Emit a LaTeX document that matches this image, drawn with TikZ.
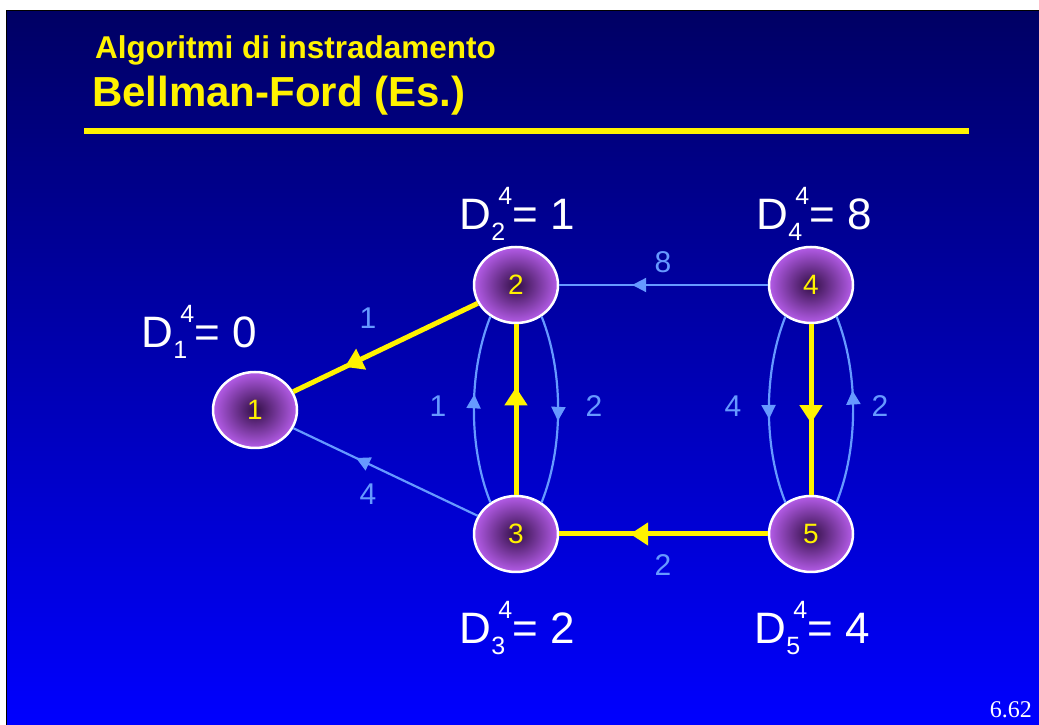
\documentclass[tikz,border=0pt]{standalone}
\usepackage{fontspec}
\setmainfont{Liberation Sans}
\newfontfamily\timesf{Liberation Serif}
\usetikzlibrary{shapes.geometric,arrows.meta,decorations.markings}
\definecolor{bgtop}{RGB}{0,0,100}
\definecolor{bgbot}{RGB}{0,0,255}
\definecolor{edgeblue}{RGB}{102,153,255}
\definecolor{nodein}{RGB}{50,15,70}
\definecolor{nodeout}{RGB}{180,92,232}
\newcommand{\dlab}[3]{\fontsize{44}{44}\selectfont D\rlap{\raisebox{-11pt}{\fontsize{25}{25}\selectfont #1}}\kern7pt\raisebox{25pt}{\fontsize{25}{25}\selectfont #2}= #3}
\begin{document}
\begin{tikzpicture}[x=1pt,y=1pt,
  st/.style={ellipse, draw=white, line width=2.5pt, minimum width=84pt, minimum height=76pt,
    inner sep=0pt, inner color=nodein, outer color=nodeout, text=yellow,
    font=\fontsize{28}{28}\selectfont},
  ye/.style={color=yellow, line width=5pt},
  be/.style={color=edgeblue, line width=2.2pt},
  ymark/.style={postaction={decorate}, decoration={markings,
    mark=at position #1 with {\arrow{Triangle[length=18pt,width=22pt]}}}},
  bmark/.style={postaction={decorate}, decoration={markings,
    mark=at position #1 with {\arrow{Triangle[length=14pt,width=14pt]}}}},
  lab/.style={text=edgeblue, font=\fontsize{30}{30}\selectfont, inner sep=0pt},
  dl/.style={text=white, anchor=base west, inner sep=0pt},
  ttl/.style={text=yellow, anchor=base west, inner sep=0pt}
]
\useasboundingbox (0,0) rectangle (1039,725);
\fill[white] (0,0) rectangle (1039,725);
\shade[top color=bgtop, bottom color=bgbot] (6,0) rectangle (1039,714);
\draw[black, line width=1pt] (6.5,0) -- (6.5,714) -- (1039,714);

% titles
\node[ttl, font=\bfseries\fontsize{31.5}{32}\selectfont] (t1) at (95,666) {Algoritmi di instradamento};
\node[ttl, font=\bfseries\fontsize{42}{42}\selectfont] (t2) at (92,618) {Bellman-Ford (Es.)};
\draw[yellow, line width=6pt] (84,594) -- (969,594);

% nodes
\node[st] (n1) at (255,315) {1};
\node[st] (n2) at (516,440) {2};
\node[st] (n3) at (516,191) {3};
\node[st] (n4) at (811,440) {4};
\node[st] (n5) at (811,191) {5};

% edges
\draw[ye, ymark=0.72] (n2) -- (n1);
\draw[be, bmark=0.66] (n3) -- (n1);
\draw[ye, ymark=0.63] (n3) -- (n2);
\draw[be, bmark=0.65] (n4) -- (n2);
\draw[ye, ymark=0.58] (n4) -- (n5);
\draw[ye, ymark=0.66] (n5) -- (n3);
\draw[be, bmark=0.58] (n3.129) .. controls +(-22,55) and +(-22,-55) .. (n2.231);
\draw[be, bmark=0.56] (n2.309) .. controls +(22,-55) and +(22,55) .. (n3.51);
\draw[be, bmark=0.55] (n4.231) .. controls +(-22,-55) and +(-22,55) .. (n5.129);
\draw[be, bmark=0.6] (n5.51) .. controls +(22,55) and +(22,-55) .. (n4.309);

% edge labels
\node[lab] (l21) at (368,407) {1};
\node[lab] (l31) at (368,231) {4};
\node[lab] (l32) at (438,319) {1};
\node[lab] (l23) at (594,319) {2};
\node[lab] (l42) at (663,463) {8};
\node[lab] (l45) at (733,319) {4};
\node[lab] (l54) at (880,319) {2};
\node[lab] (l53) at (663,160) {2};

% distance labels
\node[dl] (d1) at (141.5,377) {\dlab{1}{4}{0}};
\node[dl] (d2) at (459.5,495) {\dlab{2}{4}{1}};
\node[dl] (d3) at (459.5,81) {\dlab{3}{4}{2}};
\node[dl] (d4) at (756.5,495) {\dlab{4}{4}{8}};
\node[dl] (d5) at (754.5,81) {\dlab{5}{4}{4}};

% page number
\node[anchor=base east, text=white, inner sep=0pt, font=\timesf\fontsize{24}{24}\selectfont] (pg) at (1032,7) {6.62};
\end{tikzpicture}
\end{document}
